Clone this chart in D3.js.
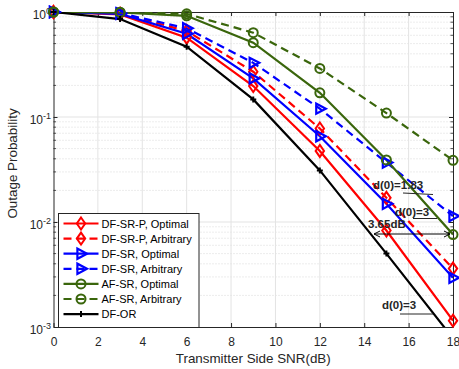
<!DOCTYPE html>
<html>
<head>
<meta charset="utf-8">
<script src="https://cdn.jsdelivr.net/npm/d3@7"></script>
<style>
  body { margin: 0; background: #fff; }
  svg { font-family: "Liberation Sans", Arial, sans-serif; }
  .tick text { font-size: 12px; fill: #262626; }
</style>
</head>
<body>
<svg id="chart" width="459" height="369"></svg>
<script>
// SNR points (dB)
const snr = [0, 3, 6, 9, 12, 15, 18];

// outage probability per scheme
const dfsrpOpt = [1, 0.95, 0.57, 0.197, 0.0475, 0.0083, 0.00115];
const dfsrpArb = [1, 0.965, 0.66, 0.27, 0.0777, 0.017, 0.0036];
const dfsrOpt = [1, 0.96, 0.62, 0.233, 0.0656, 0.0149, 0.00294];
const dfsrArb = [1, 0.975, 0.70, 0.328, 0.12, 0.0368, 0.0114];
const afsrOpt = [1, 0.99, 0.92, 0.51, 0.17, 0.039, 0.0076];
const afsrArb = [1, 0.995, 0.96, 0.635, 0.29, 0.109, 0.0387];
const dfor = [1, 0.857, 0.467, 0.147, 0.031, 0.005, 0.00078];

const xTicks = [0, 2, 4, 6, 8, 10, 12, 14, 16, 18];
const yTicks = [1e-3, 1e-2, 1e-1, 1];

const green = "#3a660c";
const series = [
    { name: "DF-SR-P, Optimal", values: dfsrpOpt, color: "#ff0000", dash: null, marker: "diamond" },
    { name: "DF-SR-P, Arbitrary", values: dfsrpArb, color: "#ff0000", dash: "8,5", marker: "diamond" },
    { name: "DF-SR, Optimal", values: dfsrOpt, color: "#0000ff", dash: null, marker: "triangle" },
    { name: "DF-SR, Arbitrary", values: dfsrArb, color: "#0000ff", dash: "8,5", marker: "triangle" },
    { name: "AF-SR, Optimal", values: afsrOpt, color: green, dash: null, marker: "circle" },
    { name: "AF-SR, Arbitrary", values: afsrArb, color: green, dash: "8,5", marker: "circle" },
    { name: "DF-OR", values: dfor, color: "#000000", dash: null, marker: "plus" }
];

const width = 459, height = 369;
const margin = { left: 53.5, right: 6, top: 12, bottom: 42 };
const drawWidth = width - margin.left - margin.right;
const drawHeight = height - margin.top - margin.bottom;

const svg = d3.select("#chart");
const xScale = d3.scaleLinear().domain([0, 18]).range([0, drawWidth]);
const yScale = d3.scaleLog().domain([1e-3, 1]).range([drawHeight, 0]);

const g = svg.append("g").attr("transform", `translate(${margin.left},${margin.top})`);

// clip for lines
svg.append("defs").append("clipPath").attr("id", "clip")
    .append("rect").attr("width", drawWidth).attr("height", drawHeight);

// minor grid (y, dotted)
const minorY = [];
for (let e = -3; e < 0; e++) for (let k = 2; k <= 9; k++) minorY.push(k * Math.pow(10, e));
g.append("g").selectAll("line").data(minorY).enter().append("line")
    .attr("x1", 0).attr("x2", drawWidth)
    .attr("y1", d => yScale(d)).attr("y2", d => yScale(d))
    .attr("stroke", "#cfcfcf").attr("stroke-width", 0.8).attr("stroke-dasharray", "1,2");

// major grid
g.append("g").selectAll("line").data(xTicks.slice(1, -1)).enter().append("line")
    .attr("x1", d => xScale(d)).attr("x2", d => xScale(d))
    .attr("y1", 0).attr("y2", drawHeight)
    .attr("stroke", "#e3e3e3").attr("stroke-width", 1);
g.append("g").selectAll("line").data(yTicks.slice(1, -1)).enter().append("line")
    .attr("x1", 0).attr("x2", drawWidth)
    .attr("y1", d => yScale(d)).attr("y2", d => yScale(d))
    .attr("stroke", "#e3e3e3").attr("stroke-width", 1);

// axes (ticks inward)
const xAxis = g.append("g").attr("transform", `translate(0,${drawHeight})`)
    .call(d3.axisBottom(xScale).tickValues(xTicks).tickSizeInner(-4).tickSizeOuter(0).tickPadding(10).tickFormat(d3.format("d")));
const xAxisTop = g.append("g")
    .call(d3.axisTop(xScale).tickValues(xTicks).tickSizeInner(-4).tickSizeOuter(0).tickFormat(""));
const yAxis = g.append("g")
    .call(d3.axisLeft(yScale).tickValues(yTicks).tickSizeInner(-4).tickSizeOuter(0).tickPadding(2.5).tickFormat(""));
const yAxisRight = g.append("g").attr("transform", `translate(${drawWidth},0)`)
    .call(d3.axisRight(yScale).tickValues(yTicks).tickSizeInner(-4).tickSizeOuter(0).tickFormat(""));

// minor y ticks
[0, drawWidth].forEach((x0, i) => {
    g.append("g").selectAll("line").data(minorY).enter().append("line")
        .attr("x1", x0).attr("x2", i === 0 ? x0 + 2.5 : x0 - 2.5)
        .attr("y1", d => yScale(d)).attr("y2", d => yScale(d))
        .attr("stroke", "#262626").attr("stroke-width", 0.8);
});

[xAxis, xAxisTop, yAxis, yAxisRight].forEach(a => {
    a.select(".domain").attr("stroke", "#262626").attr("stroke-width", 1);
    a.selectAll(".tick line").attr("stroke", "#262626");
});

// y tick labels with superscripts
yAxis.selectAll(".tick text").each(function (d) {
    const t = d3.select(this);
    t.text(null);
    t.append("tspan").text("10");
    t.append("tspan").attr("dy", "-0.45em").attr("font-size", "9px").text(Math.round(Math.log10(d)));
}).attr("dy", "0.5em");

// axis labels
svg.append("text").attr("x", margin.left + drawWidth / 2).attr("y", 362.5)
    .attr("text-anchor", "middle").attr("font-size", "13.4px").attr("fill", "#262626")
    .text("Transmitter Side SNR(dB)");
svg.append("text").attr("transform", `translate(17,${margin.top + drawHeight / 2 - 6}) rotate(-90)`)
    .attr("text-anchor", "middle").attr("font-size", "13.4px").attr("fill", "#262626")
    .text("Outage Probability");

// markers
function drawMarker(sel, type, color, size) {
    if (type === "diamond") {
        sel.append("path").attr("d", `M0,${-size}L${size * 0.7},0L0,${size}L${-size * 0.7},0Z`)
            .attr("fill", "none").attr("stroke", color).attr("stroke-width", 2);
    } else if (type === "triangle") {
        sel.append("path").attr("d", `M${size},0L${-size * 0.6},${-size * 0.85}L${-size * 0.6},${size * 0.85}Z`)
            .attr("fill", "none").attr("stroke", color).attr("stroke-width", 2.2);
    } else if (type === "circle") {
        sel.append("circle").attr("r", size * 0.75)
            .attr("fill", "none").attr("stroke", color).attr("stroke-width", 2);
    } else {
        sel.append("path").attr("d", `M${-size * 0.5},0H${size * 0.5}M0,${-size * 0.5}V${size * 0.5}`)
            .attr("stroke", color).attr("stroke-width", 2);
    }
}

const line = d3.line().x((d, i) => xScale(snr[i])).y(d => yScale(d));
const plot = g.append("g").attr("clip-path", "url(#clip)");
const plotMarkers = g.append("g");

series.forEach(s => {
    plot.append("path").datum(s.values)
        .attr("d", line).attr("fill", "none")
        .attr("stroke", s.color).attr("stroke-width", 2.2)
        .attr("stroke-dasharray", s.dash);
    s.values.forEach((v, i) => {
        if (v < 1e-3) return;
        const m = plotMarkers.append("g").attr("transform", `translate(${xScale(snr[i])},${yScale(v)})`);
        drawMarker(m, s.marker, s.color, 6);
    });
});

// annotations
const ann = svg.append("g").attr("font-size", "11.5px").attr("font-weight", "bold").attr("fill", "#262626");
ann.append("text").attr("x", 373).attr("y", 189).text("d(0)=1.83");
ann.append("line").attr("x1", 403).attr("y1", 193).attr("x2", 433).attr("y2", 194.5).attr("stroke", "#262626");
ann.append("text").attr("x", 395).attr("y", 216).text("d(0)=3");
ann.append("line").attr("x1", 413).attr("y1", 218.5).attr("x2", 437).attr("y2", 218.5).attr("stroke", "#262626");
ann.append("text").attr("x", 368).attr("y", 228).text("3.65dB");
ann.append("text").attr("x", 382).attr("y", 309).text("d(0)=3");
ann.append("line").attr("x1", 400).attr("y1", 314).attr("x2", 433).attr("y2", 314).attr("stroke", "#262626");

// double arrow
const ay = 234, ax1 = 374, ax2 = 450;
ann.append("line").attr("x1", ax1).attr("y1", ay).attr("x2", ax2).attr("y2", ay).attr("stroke", "#000").attr("stroke-width", 1);
ann.append("path").attr("d", `M${ax1 + 6},${ay - 3}L${ax1},${ay}L${ax1 + 6},${ay + 3}`).attr("fill", "none").attr("stroke", "#000");
ann.append("path").attr("d", `M${ax2 - 6},${ay - 3}L${ax2},${ay}L${ax2 - 6},${ay + 3}`).attr("fill", "none").attr("stroke", "#000");

// legend
const legend = svg.append("g").attr("transform", "translate(58.5,213.5)");
legend.append("rect").attr("width", 140.5).attr("height", 114)
    .attr("fill", "#fff").attr("stroke", "#262626").attr("stroke-width", 1);
series.forEach((s, i) => {
    const row = legend.append("g").attr("transform", `translate(0,${10 + i * 15.1})`);
    row.append("line").attr("x1", 5).attr("x2", 40).attr("y1", 0).attr("y2", 0)
        .attr("stroke", s.color).attr("stroke-width", 2.2).attr("stroke-dasharray", s.dash);
    const m = row.append("g").attr("transform", "translate(22.5,0)");
    drawMarker(m, s.marker, s.color, 6);
    row.append("text").attr("x", 43).attr("y", 4).attr("font-size", "11px").attr("fill", "#000").text(s.name);
});
</script>
</body>
</html>
